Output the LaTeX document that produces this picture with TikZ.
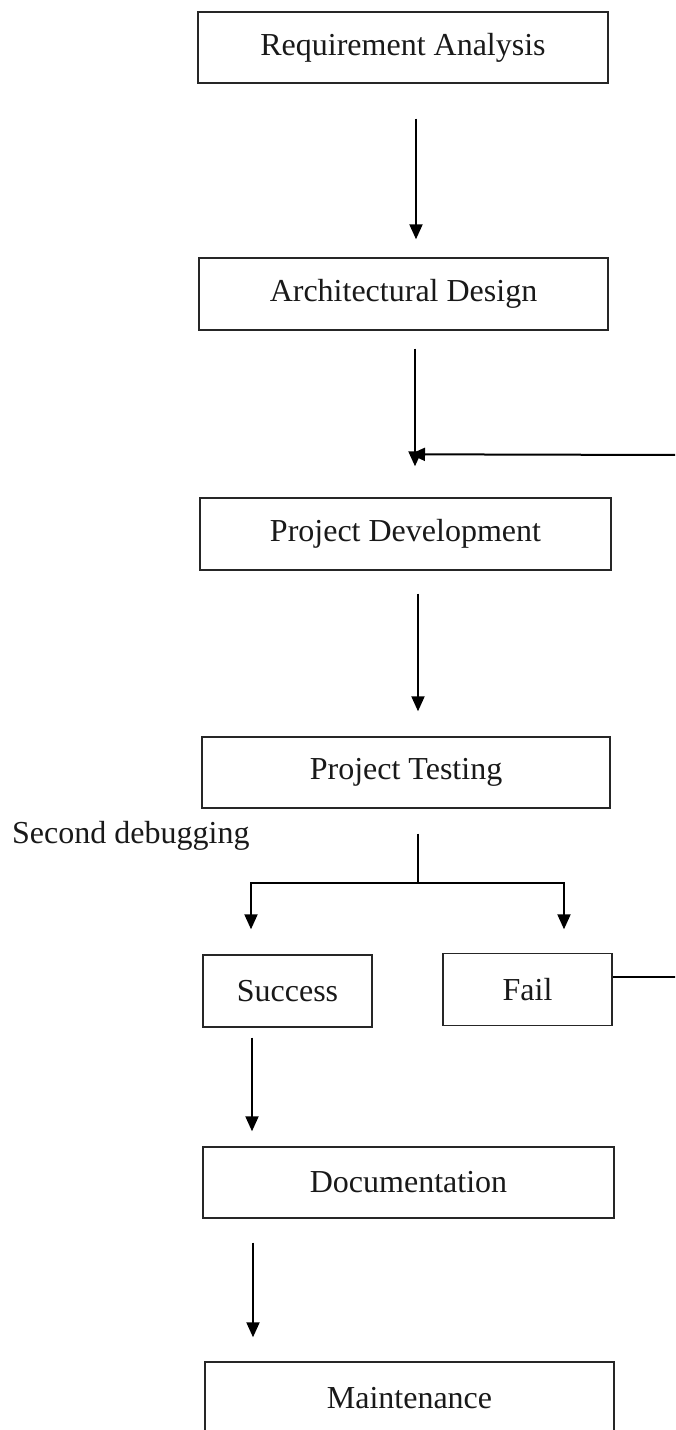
\documentclass[tikz,border=0pt]{standalone}
\usepackage{fontspec}
\setmainfont{Liberation Serif}
\usetikzlibrary{arrows.meta}
\begin{document}
\begin{tikzpicture}[x=1pt,y=-1pt,
  box/.style={draw=black!85,line width=1.4pt,rectangle,inner sep=0pt,
    font=\fontsize{32}{38}\selectfont,text=black!90},
  arr/.style={line width=2pt,-{Triangle[length=15pt,width=13pt]}},
  ln/.style={line width=2pt}]
\useasboundingbox (0,0) rectangle (675,1430);
\clip (0,0) rectangle (675,1430);
\fill[white] (0,0) rectangle (675,1430);
\node[box,minimum width=410pt,minimum height=71pt] (RA) at (403,47.5) {Requirement Analysis};
\node[box,minimum width=409pt,minimum height=72pt] (AD) at (403.5,294) {Architectural Design};
\node[box,minimum width=411pt,minimum height=72pt] (PD) at (405.5,534) {Project Development};
\node[box,minimum width=408pt,minimum height=71pt] (PT) at (406,772.5) {Project Testing};
\node[box,minimum width=169pt,minimum height=72pt] (SU) at (287.5,991) {Success};
\node[box,minimum width=169pt,minimum height=72pt] (FA) at (527.5,989.5) {Fail};
\node[box,minimum width=411pt,minimum height=71pt] (DO) at (408.5,1182.5) {Documentation};
\node[box,minimum width=409pt,minimum height=72pt] (MA) at (409.5,1398) {Maintenance};
\node[anchor=base west,inner sep=0pt,font=\fontsize{32}{38}\selectfont,text=black!90] (SD) at (12,843) {Second debugging};
\coordinate (fbtop) at (680,455);
\coordinate (fbbot) at (680,977);
\draw[arr] ([xshift=13pt,yshift=-35pt]RA.south) -- ([xshift=12.5pt,yshift=18pt]AD.north);
\draw[arr] ([xshift=11.5pt,yshift=-18pt]AD.south) -- ([xshift=9.5pt,yshift=31pt]PD.north);
\draw[arr] (fbtop) -- ([xshift=4.5pt,yshift=43pt]PD.north);
\draw[arr] ([xshift=12.5pt,yshift=-23pt]PD.south) -- ([xshift=12pt,yshift=25pt]PT.north);
\coordinate (split) at ([xshift=12pt,yshift=-74pt]PT.south);
\draw[ln] ([xshift=12pt,yshift=-25pt]PT.south) -- (split);
\draw[arr] (split) -| ([xshift=-36.5pt,yshift=25pt]SU.north);
\draw[arr] (split) -| ([xshift=36.5pt,yshift=23.5pt]FA.north);
\draw[ln] ([yshift=12.5pt]FA.east) -- (fbbot);
\draw[arr] ([xshift=-35.5pt,yshift=-10pt]SU.south) -- ([xshift=-156.5pt,yshift=15pt]DO.north);
\draw[arr] ([xshift=-155.5pt,yshift=-24pt]DO.south) -- ([xshift=-156.5pt,yshift=24pt]MA.north);
\end{tikzpicture}
\end{document}
